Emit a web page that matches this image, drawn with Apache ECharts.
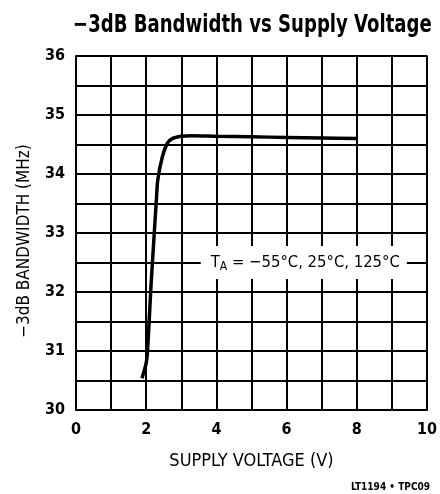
<!DOCTYPE html>
<html style="height: 100%">
    <head>
        <meta charset="utf-8">
        <script src="https://cdn.jsdelivr.net/npm/echarts@6/dist/echarts.min.js"></script>
    </head>
    <body style="height: 100%; margin: 0; background: #fff">
        <div id="container" style="width: 440px; height: 494px"></div>
        <script type="text/javascript">
        // supply voltage (V) vs -3dB bandwidth (MHz)
        var voltage = [1.88, 2.0, 2.04, 2.13, 2.23, 2.29, 2.33, 2.46, 2.6, 2.74, 3.0, 3.3, 4.0, 5.0, 6.0, 7.0, 8.0];
        var bandwidth = [30.54, 30.8, 31.02, 32.03, 33.0, 33.56, 33.9, 34.29, 34.52, 34.6, 34.64, 34.65, 34.64, 34.63, 34.62, 34.61, 34.6];
        var xTicks = [0, 2, 4, 6, 8, 10];
        var yTicks = [30, 31, 32, 33, 34, 35, 36];
        var noteText = '−55°C, 25°C, 125°C';

        var font = '"DejaVu Sans Condensed", "Liberation Sans Narrow", sans-serif';
        var myChart = echarts.init(document.getElementById('container'));
        var option = {
            backgroundColor: '#fff',
            animation: false,
            graphic: [{
                // title, squeezed sideways like the condensed datasheet face
                type: 'text',
                x: 73,
                y: 13,
                scaleX: 0.804,
                style: { text: '−3dB Bandwidth vs Supply Voltage', font: 'bold 25px ' + font, fill: '#000' }
            }, {
                type: 'text',
                right: 10,
                top: 482,
                style: { text: 'LT1194 • TPC09', font: 'bold 10px ' + font, fill: '#000' }
            }],
            grid: { left: 76, right: 8, top: 56, bottom: 84 },
            xAxis: {
                type: 'value',
                min: 0, max: 10, interval: 1,
                name: 'SUPPLY VOLTAGE (V)',
                nameLocation: 'middle',
                nameGap: 42,
                nameTextStyle: { fontFamily: font, fontSize: 18, color: '#000' },
                axisLine: { lineStyle: { color: '#000', width: 2 } },
                axisTick: { show: false },
                axisLabel: {
                    margin: 12,
                    fontFamily: font, fontSize: 16, fontWeight: 'bold', color: '#000',
                    formatter: function (v) { return xTicks.indexOf(v) >= 0 ? String(v) : ''; }
                },
                splitLine: { show: true, lineStyle: { color: '#000', width: 2 } }
            },
            yAxis: {
                type: 'value',
                min: 30, max: 36, interval: 0.5,
                name: '−3dB BANDWIDTH (MHz)',
                nameLocation: 'middle',
                nameGap: 43,
                nameTextStyle: { fontFamily: font, fontSize: 17, color: '#000', padding: [0, 16, 0, 0] },
                axisLine: { show: true, lineStyle: { color: '#000', width: 2 } },
                axisTick: { show: false },
                axisLabel: {
                    margin: 11,
                    fontFamily: font, fontSize: 16, fontWeight: 'bold', color: '#000',
                    formatter: function (v) { return yTicks.indexOf(v) >= 0 ? String(v) : ''; }
                },
                splitLine: { show: true, lineStyle: { color: '#000', width: 2 } }
            },
            series: [{
                type: 'line',
                smooth: 0.3,
                symbol: 'none',
                lineStyle: { color: '#000', width: 3.5 },
                data: voltage.map(function (v, i) { return [v, bandwidth[i]]; }),
                markPoint: {
                    symbol: 'rect',
                    symbolSize: 0,
                    data: [{ coord: [6.49, 32.5] }],
                    label: {
                        show: true,
                        position: 'inside',
                        backgroundColor: '#fff',
                        padding: [6, 7, 6, 10],
                        formatter: 'T{sub|A} = ' + noteText,
                        fontFamily: font, fontSize: 16.5, color: '#000',
                        rich: {
                            sub: { fontFamily: font, fontSize: 12, color: '#000', verticalAlign: 'bottom', padding: [9, 0, 0, 0] }
                        }
                    }
                }
            }, {
                // outer frame
                type: 'line',
                symbol: 'none',
                silent: true,
                lineStyle: { color: '#000', width: 2 },
                data: [[0, 36], [10, 36], [10, 30]]
            }]
        };
        myChart.setOption(option);
        </script>
    </body>
</html>
